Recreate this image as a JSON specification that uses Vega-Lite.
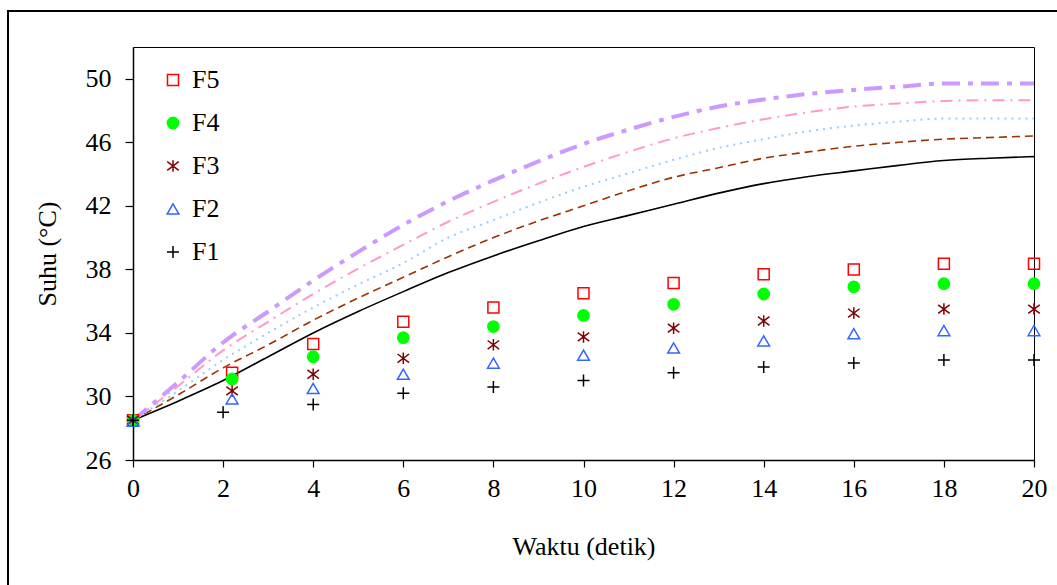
{
  "$schema": "https://vega.github.io/schema/vega-lite/v6.json",
  "width": 901,
  "height": 413,
  "autosize": "none",
  "padding": {"left": 133, "top": 47, "right": 23, "bottom": 125},
  "background": "white",
  "config": {
    "font": "Liberation Serif",
    "view": {"stroke": "black", "strokeWidth": 1},
    "axis": {
      "grid": false,
      "labelFlush": false,
      "labelOverlap": false,
      "domainColor": "black",
      "domainWidth": 1.5,
      "tickColor": "black",
      "tickWidth": 1.2,
      "labelColor": "black",
      "titleColor": "black",
      "labelFontSize": 26,
      "titleFontSize": 26,
      "titleFontWeight": "normal",
      "labelFont": "Liberation Serif",
      "titleFont": "Liberation Serif"
    },
    "legend": {
      "orient": "none",
      "legendX": 27,
      "legendY": 20,
      "padding": 0,
      "labelFontSize": 26,
      "labelFont": "Liberation Serif",
      "labelColor": "black",
      "labelOffset": 6,
      "rowPadding": 17,
      "symbolStrokeWidth": 1.5
    }
  },
  "datasets": {
    "curves": [
      {"t": 0, "c1": 28.5, "c2": 28.5, "c3": 28.5, "c4": 28.5, "c5": 28.5},
      {"t": 1, "c1": 29.7, "c2": 30.1, "c3": 30.35, "c4": 30.65, "c5": 30.9},
      {"t": 2, "c1": 31.0, "c2": 31.8, "c3": 32.3, "c4": 32.9, "c5": 33.4},
      {"t": 3, "c1": 32.5, "c2": 33.25, "c3": 34.0, "c4": 34.7, "c5": 35.35},
      {"t": 4, "c1": 34.0, "c2": 34.8, "c3": 35.6, "c4": 36.45, "c5": 37.3},
      {"t": 5, "c1": 35.35, "c2": 36.2, "c3": 37.05, "c4": 38.05, "c5": 39.1},
      {"t": 6, "c1": 36.6, "c2": 37.5, "c3": 38.4, "c4": 39.55, "c5": 40.8},
      {"t": 7, "c1": 37.8, "c2": 38.8, "c3": 40.0, "c4": 41.0, "c5": 42.3},
      {"t": 8, "c1": 38.85, "c2": 40.0, "c3": 41.1, "c4": 42.25, "c5": 43.6},
      {"t": 9, "c1": 39.8, "c2": 41.05, "c3": 42.2, "c4": 43.4, "c5": 44.8},
      {"t": 10, "c1": 40.7, "c2": 42.0, "c3": 43.2, "c4": 44.45, "c5": 45.9},
      {"t": 11, "c1": 41.4, "c2": 42.95, "c3": 44.05, "c4": 45.4, "c5": 46.8},
      {"t": 12, "c1": 42.1, "c2": 43.8, "c3": 44.9, "c4": 46.25, "c5": 47.6},
      {"t": 13, "c1": 42.8, "c2": 44.4, "c3": 45.65, "c4": 46.9, "c5": 48.25},
      {"t": 14, "c1": 43.4, "c2": 45.0, "c3": 46.2, "c4": 47.45, "c5": 48.7},
      {"t": 15, "c1": 43.85, "c2": 45.4, "c3": 46.7, "c4": 47.9, "c5": 49.05},
      {"t": 16, "c1": 44.2, "c2": 45.75, "c3": 47.05, "c4": 48.25, "c5": 49.3},
      {"t": 17, "c1": 44.55, "c2": 46.0, "c3": 47.3, "c4": 48.45, "c5": 49.5},
      {"t": 18, "c1": 44.85, "c2": 46.2, "c3": 47.5, "c4": 48.6, "c5": 49.7},
      {"t": 19, "c1": 45.0, "c2": 46.3, "c3": 47.5, "c4": 48.65, "c5": 49.7},
      {"t": 20, "c1": 45.1, "c2": 46.4, "c3": 47.5, "c4": 48.65, "c5": 49.7}
    ],
    "obs": [
      {"series": "F5", "t": 0, "v": 28.5},
      {"series": "F5", "t": 2.2, "v": 31.5},
      {"series": "F5", "t": 4, "v": 33.3},
      {"series": "F5", "t": 6, "v": 34.7},
      {"series": "F5", "t": 8, "v": 35.6},
      {"series": "F5", "t": 10, "v": 36.5},
      {"series": "F5", "t": 12, "v": 37.15},
      {"series": "F5", "t": 14, "v": 37.7},
      {"series": "F5", "t": 16, "v": 38.0},
      {"series": "F5", "t": 18, "v": 38.35},
      {"series": "F5", "t": 20, "v": 38.35},
      {"series": "F4", "t": 0, "v": 28.5},
      {"series": "F4", "t": 2.2, "v": 31.1},
      {"series": "F4", "t": 4, "v": 32.5},
      {"series": "F4", "t": 6, "v": 33.7},
      {"series": "F4", "t": 8, "v": 34.4},
      {"series": "F4", "t": 10, "v": 35.1},
      {"series": "F4", "t": 12, "v": 35.8},
      {"series": "F4", "t": 14, "v": 36.45},
      {"series": "F4", "t": 16, "v": 36.9},
      {"series": "F4", "t": 18, "v": 37.1},
      {"series": "F4", "t": 20, "v": 37.1},
      {"series": "F3", "t": 0, "v": 28.5},
      {"series": "F3", "t": 2.2, "v": 30.35},
      {"series": "F3", "t": 4, "v": 31.4},
      {"series": "F3", "t": 6, "v": 32.4},
      {"series": "F3", "t": 8, "v": 33.25},
      {"series": "F3", "t": 10, "v": 33.75},
      {"series": "F3", "t": 12, "v": 34.3},
      {"series": "F3", "t": 14, "v": 34.75},
      {"series": "F3", "t": 16, "v": 35.25},
      {"series": "F3", "t": 18, "v": 35.5},
      {"series": "F3", "t": 20, "v": 35.5},
      {"series": "F2", "t": 0, "v": 28.45},
      {"series": "F2", "t": 2.2, "v": 29.85},
      {"series": "F2", "t": 4, "v": 30.5},
      {"series": "F2", "t": 6, "v": 31.4},
      {"series": "F2", "t": 8, "v": 32.1},
      {"series": "F2", "t": 10, "v": 32.6},
      {"series": "F2", "t": 12, "v": 33.05},
      {"series": "F2", "t": 14, "v": 33.5},
      {"series": "F2", "t": 16, "v": 33.95},
      {"series": "F2", "t": 18, "v": 34.15},
      {"series": "F2", "t": 20, "v": 34.15},
      {"series": "F1", "t": 0, "v": 28.5},
      {"series": "F1", "t": 2, "v": 29.0},
      {"series": "F1", "t": 4, "v": 29.5},
      {"series": "F1", "t": 6, "v": 30.2},
      {"series": "F1", "t": 8, "v": 30.6},
      {"series": "F1", "t": 10, "v": 31.0},
      {"series": "F1", "t": 12, "v": 31.5},
      {"series": "F1", "t": 14, "v": 31.85},
      {"series": "F1", "t": 16, "v": 32.1},
      {"series": "F1", "t": 18, "v": 32.3},
      {"series": "F1", "t": 20, "v": 32.3}
    ]
  },
  "encoding": {
    "x": {
      "field": "t",
      "type": "quantitative",
      "scale": {"domain": [0, 20], "nice": false, "zero": false},
      "axis": {
        "title": "Waktu (detik)",
        "values": [0, 2, 4, 6, 8, 10, 12, 14, 16, 18, 20],
        "tickSize": 7,
        "labelPadding": 8,
        "titlePadding": 32
      }
    }
  },
  "layer": [
    {
      "data": {"name": "curves"},
      "mark": {"type": "line", "color": "#000000", "strokeWidth": 1.6, "interpolate": "monotone"},
      "encoding": {
        "y": {
          "field": "c1",
          "type": "quantitative",
          "scale": {"domain": [26, 52], "nice": false, "zero": false},
          "axis": {
            "title": "Suhu (°C)",
            "values": [26, 30, 34, 38, 42, 46, 50],
            "tickSize": 8,
            "labelPadding": 14,
            "titlePadding": 25
          }
        }
      }
    },
    {
      "data": {"name": "curves"},
      "mark": {"type": "line", "color": "#993300", "strokeWidth": 1.6, "strokeDash": [8, 5], "interpolate": "monotone"},
      "encoding": {"y": {"field": "c2", "type": "quantitative"}}
    },
    {
      "data": {"name": "curves"},
      "mark": {"type": "line", "color": "#99CCFF", "strokeWidth": 2, "strokeDash": [2, 5], "interpolate": "monotone"},
      "encoding": {"y": {"field": "c3", "type": "quantitative"}}
    },
    {
      "data": {"name": "curves"},
      "mark": {"type": "line", "color": "#FF99CC", "strokeWidth": 2, "strokeDash": [12, 6, 2, 6], "interpolate": "monotone"},
      "encoding": {"y": {"field": "c4", "type": "quantitative"}}
    },
    {
      "data": {"name": "curves"},
      "mark": {"type": "line", "color": "#CC99FF", "strokeWidth": 4, "strokeDash": [18, 8, 5, 8], "interpolate": "monotone"},
      "encoding": {"y": {"field": "c5", "type": "quantitative"}}
    },
    {
      "data": {"name": "obs"},
      "mark": {"type": "point", "filled": false, "strokeWidth": 1.5, "opacity": 1},
      "encoding": {
        "y": {"field": "v", "type": "quantitative"},
        "stroke": {
          "field": "series",
          "type": "nominal",
          "scale": {"domain": ["F5", "F4", "F3", "F2", "F1"], "range": ["#FF0000", "#00FF00", "#800000", "#3366FF", "#000000"]},
          "legend": {"title": null}
        },
        "fill": {
          "field": "series",
          "type": "nominal",
          "scale": {"domain": ["F5", "F4", "F3", "F2", "F1"], "range": ["transparent", "#00FF00", "transparent", "transparent", "transparent"]},
          "legend": {"title": null}
        },
        "shape": {
          "field": "series",
          "type": "nominal",
          "scale": {"domain": ["F5", "F4", "F3", "F2", "F1"], "range": ["square", "circle", "M-1,-0.75L1,0.75M-1,0.75L1,-0.75M0,-1L0,1", "triangle-up", "M-1,0L1,0M0,-1L0,1"]},
          "legend": {"title": null}
        },
        "size": {
          "field": "series",
          "type": "nominal",
          "scale": {"domain": ["F5", "F4", "F3", "F2", "F1"], "range": [121, 144, 169, 130, 225]},
          "legend": {"title": null}
        }
      }
    },
    {
      "data": {"values": [{}]},
      "mark": {"type": "rect", "fill": null, "stroke": "black", "strokeWidth": 2, "clip": false},
      "encoding": {
        "x": {"value": -125},
        "x2": {"value": 1000},
        "y": {"value": -36},
        "y2": {"value": 600}
      }
    }
  ]
}
